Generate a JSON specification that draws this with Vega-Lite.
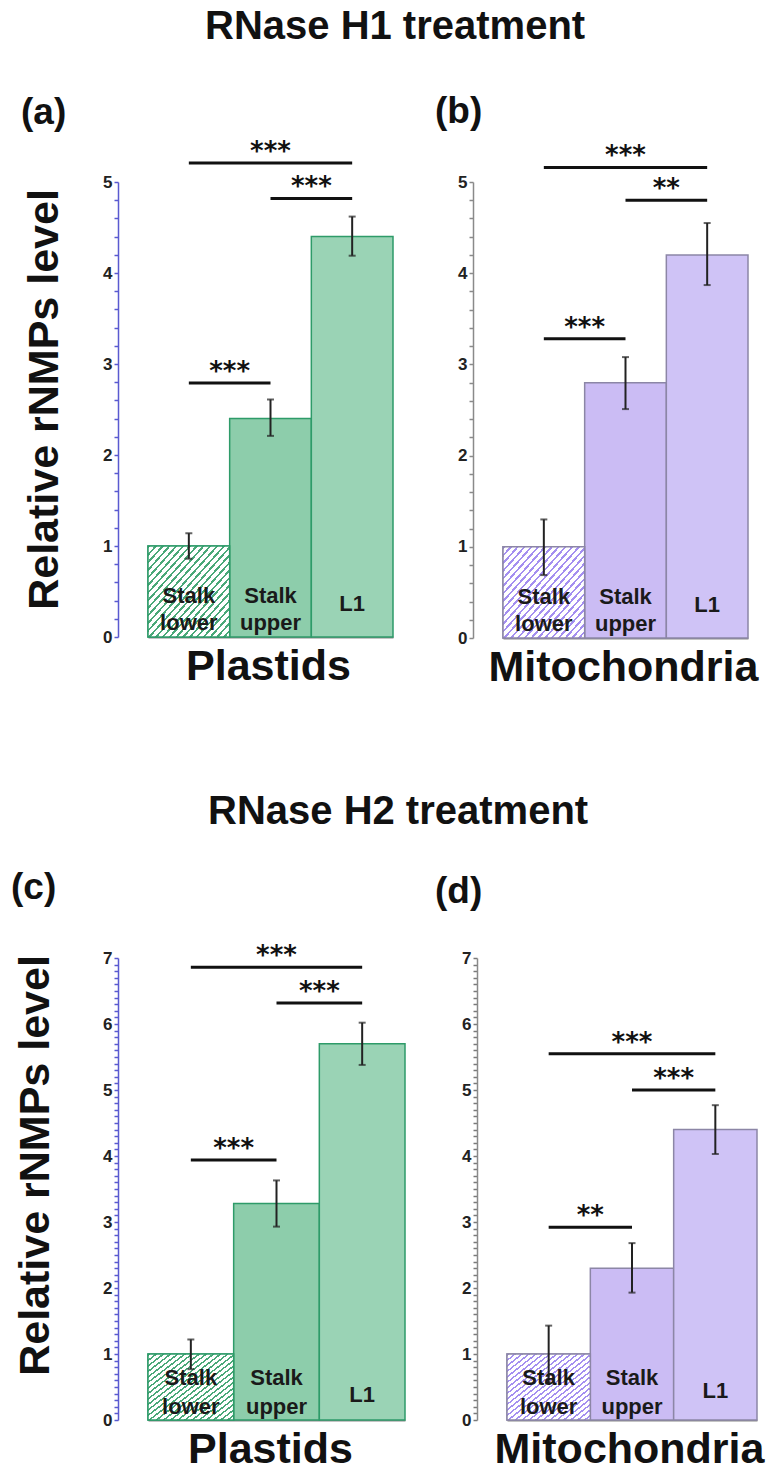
{
  "$schema": "https://vega.github.io/schema/vega-lite/v6.json",
  "padding": {"left": 11, "top": 7, "right": 5, "bottom": 5},
  "spacing": 103,
  "config": {
    "font": "Liberation Sans",
    "view": {"stroke": null},
    "axis": {"grid": false}
  },
  "resolve": {"scale": {"color": "independent", "x": "independent", "y": "independent"}},
  "datasets": {
    "bars": [
      {"panel": "a", "group": "Stalk lower", "top": "Stalk", "bot": "lower", "mid": "", "value": 1.0, "lo": 0.86, "hi": 1.14},
      {"panel": "a", "group": "Stalk upper", "top": "Stalk", "bot": "upper", "mid": "", "value": 2.4, "lo": 2.21, "hi": 2.61},
      {"panel": "a", "group": "L1", "top": "", "bot": "", "mid": "L1", "value": 4.4, "lo": 4.19, "hi": 4.62},
      {"panel": "b", "group": "Stalk lower", "top": "Stalk", "bot": "lower", "mid": "", "value": 1.0, "lo": 0.69, "hi": 1.30},
      {"panel": "b", "group": "Stalk upper", "top": "Stalk", "bot": "upper", "mid": "", "value": 2.8, "lo": 2.51, "hi": 3.08},
      {"panel": "b", "group": "L1", "top": "", "bot": "", "mid": "L1", "value": 4.2, "lo": 3.87, "hi": 4.55},
      {"panel": "c", "group": "Stalk lower", "top": "Stalk", "bot": "lower", "mid": "", "value": 1.0, "lo": 0.77, "hi": 1.22},
      {"panel": "c", "group": "Stalk upper", "top": "Stalk", "bot": "upper", "mid": "", "value": 3.28, "lo": 2.93, "hi": 3.63},
      {"panel": "c", "group": "L1", "top": "", "bot": "", "mid": "L1", "value": 5.7, "lo": 5.38, "hi": 6.02},
      {"panel": "d", "group": "Stalk lower", "top": "Stalk", "bot": "lower", "mid": "", "value": 1.0, "lo": 0.56, "hi": 1.43},
      {"panel": "d", "group": "Stalk upper", "top": "Stalk", "bot": "upper", "mid": "", "value": 2.3, "lo": 1.93, "hi": 2.68},
      {"panel": "d", "group": "L1", "top": "", "bot": "", "mid": "L1", "value": 4.4, "lo": 4.03, "hi": 4.77}
    ],
    "sig": [
      {"panel": "a", "from": "Stalk lower", "to": "L1", "at": "Stalk upper", "kind": "long", "y": 5.21, "stars": "***"},
      {"panel": "a", "from": "Stalk upper", "to": "L1", "at": "L1", "kind": "short", "y": 4.82, "stars": "***"},
      {"panel": "a", "from": "Stalk lower", "to": "Stalk upper", "at": "Stalk upper", "kind": "short", "y": 2.79, "stars": "***"},
      {"panel": "b", "from": "Stalk lower", "to": "L1", "at": "Stalk upper", "kind": "long", "y": 5.16, "stars": "***"},
      {"panel": "b", "from": "Stalk upper", "to": "L1", "at": "L1", "kind": "short", "y": 4.80, "stars": "**"},
      {"panel": "b", "from": "Stalk lower", "to": "Stalk upper", "at": "Stalk upper", "kind": "short", "y": 3.28, "stars": "***"},
      {"panel": "c", "from": "Stalk lower", "to": "L1", "at": "Stalk upper", "kind": "long", "y": 6.86, "stars": "***"},
      {"panel": "c", "from": "Stalk upper", "to": "L1", "at": "L1", "kind": "short", "y": 6.32, "stars": "***"},
      {"panel": "c", "from": "Stalk lower", "to": "Stalk upper", "at": "Stalk upper", "kind": "short", "y": 3.94, "stars": "***"},
      {"panel": "d", "from": "Stalk lower", "to": "L1", "at": "Stalk upper", "kind": "long", "y": 5.55, "stars": "***"},
      {"panel": "d", "from": "Stalk upper", "to": "L1", "at": "L1", "kind": "short", "y": 5.0, "stars": "***"},
      {"panel": "d", "from": "Stalk lower", "to": "Stalk upper", "at": "Stalk upper", "kind": "short", "y": 2.92, "stars": "**"}
    ]
  },
  "vconcat": [
    {
      "title": {"text": "RNase H1 treatment", "anchor": "start", "dx": 184, "fontSize": 40, "fontWeight": "bold", "offset": 46, "color": "#111"},
      "bounds": "flush",
      "spacing": 70,
      "resolve": {"scale": {"color": "independent", "x": "independent", "y": "independent"}},
      "hconcat": [
        {
          "width": 285, "height": 455,
          "title": {"text": "(a)", "anchor": "start", "frame": "group", "dx": -97, "fontSize": 37, "fontWeight": "bold", "offset": 7, "color": "#111"},
          "resolve": {"axis": {"x": "independent", "y": "independent"}},
          "layer": [
            {
              "data": {"name": "bars"},
              "transform": [{"filter": "datum.panel === 'a'"}],
              "mark": {"type": "bar", "stroke": "#2e9b69", "strokeWidth": 1.5},
              "encoding": {
                "x": {"field": "group", "type": "nominal", "sort": ["Stalk lower", "Stalk upper", "L1"],
                      "scale": {"domain": ["Stalk lower", "Stalk upper", "L1"], "range": [30, 275], "paddingInner": 0, "paddingOuter": 0},
                      "axis": {"title": "Plastids", "labels": false, "ticks": false, "domainColor": "#8a8a8a", "domainWidth": 2, "titleFontSize": 43, "titleFontWeight": "bold", "titleColor": "#111", "titlePadding": 8, "titleX": 150}},
                "y": {"field": "value", "type": "quantitative", "scale": {"domain": [0, 5], "nice": false},
                      "axis": {"title": "Relative rNMPs level", "titleFontSize": 43, "titleFontWeight": "bold", "titleColor": "#111", "titlePadding": 36, "titleY": 217,
                               "values": [0,0.2,0.4,0.6,0.8,1,1.2,1.4,1.6,1.8,2,2.2,2.4,2.6,2.8,3,3.2,3.4,3.6,3.8,4,4.2,4.4,4.6,4.8,5], "format": ".0f",
                               "labelExpr": "datum.value % 1 === 0 ? datum.label : ''", "labelOverlap": false, "labelFontSize": 17, "labelFontWeight": "bold", "labelColor": "#222", "labelPadding": 2,
                               "domainColor": "#5a5ad0", "domainWidth": 1.5, "tickColor": "#5a5ad0", "tickWidth": 1.5, "tickSize": 4}},
                "color": {"field": "group", "type": "nominal", "scale": {"domain": ["Stalk lower", "Stalk upper", "L1"], "range": ["#ffffff", "#8dcdab", "#9ad3b5"]}, "legend": null}
              }
            },
            {
              "data": {"name": "bars"},
              "transform": [{"filter": "datum.panel === 'a' && datum.group === 'Stalk lower'"}],
              "mark": {"type": "bar", "stroke": "#2e9b69", "strokeWidth": 1.5, "fill": {"gradient": "linear", "x1": 0, "y1": 0, "x2": 1, "y2": 1, "stops": [{"offset":0,"color":"#4aa878"},{"offset":0.0146,"color":"#4aa878"},{"offset":0.0146,"color":"#fff"},{"offset":0.0417,"color":"#fff"},{"offset":0.0417,"color":"#4aa878"},{"offset":0.0563,"color":"#4aa878"},{"offset":0.0563,"color":"#fff"},{"offset":0.0833,"color":"#fff"},{"offset":0.0833,"color":"#4aa878"},{"offset":0.0979,"color":"#4aa878"},{"offset":0.0979,"color":"#fff"},{"offset":0.125,"color":"#fff"},{"offset":0.125,"color":"#4aa878"},{"offset":0.1396,"color":"#4aa878"},{"offset":0.1396,"color":"#fff"},{"offset":0.1667,"color":"#fff"},{"offset":0.1667,"color":"#4aa878"},{"offset":0.1813,"color":"#4aa878"},{"offset":0.1813,"color":"#fff"},{"offset":0.2083,"color":"#fff"},{"offset":0.2083,"color":"#4aa878"},{"offset":0.2229,"color":"#4aa878"},{"offset":0.2229,"color":"#fff"},{"offset":0.25,"color":"#fff"},{"offset":0.25,"color":"#4aa878"},{"offset":0.2646,"color":"#4aa878"},{"offset":0.2646,"color":"#fff"},{"offset":0.2917,"color":"#fff"},{"offset":0.2917,"color":"#4aa878"},{"offset":0.3063,"color":"#4aa878"},{"offset":0.3063,"color":"#fff"},{"offset":0.3333,"color":"#fff"},{"offset":0.3333,"color":"#4aa878"},{"offset":0.3479,"color":"#4aa878"},{"offset":0.3479,"color":"#fff"},{"offset":0.375,"color":"#fff"},{"offset":0.375,"color":"#4aa878"},{"offset":0.3896,"color":"#4aa878"},{"offset":0.3896,"color":"#fff"},{"offset":0.4167,"color":"#fff"},{"offset":0.4167,"color":"#4aa878"},{"offset":0.4313,"color":"#4aa878"},{"offset":0.4313,"color":"#fff"},{"offset":0.4583,"color":"#fff"},{"offset":0.4583,"color":"#4aa878"},{"offset":0.4729,"color":"#4aa878"},{"offset":0.4729,"color":"#fff"},{"offset":0.5,"color":"#fff"},{"offset":0.5,"color":"#4aa878"},{"offset":0.5146,"color":"#4aa878"},{"offset":0.5146,"color":"#fff"},{"offset":0.5417,"color":"#fff"},{"offset":0.5417,"color":"#4aa878"},{"offset":0.5563,"color":"#4aa878"},{"offset":0.5563,"color":"#fff"},{"offset":0.5833,"color":"#fff"},{"offset":0.5833,"color":"#4aa878"},{"offset":0.5979,"color":"#4aa878"},{"offset":0.5979,"color":"#fff"},{"offset":0.625,"color":"#fff"},{"offset":0.625,"color":"#4aa878"},{"offset":0.6396,"color":"#4aa878"},{"offset":0.6396,"color":"#fff"},{"offset":0.6667,"color":"#fff"},{"offset":0.6667,"color":"#4aa878"},{"offset":0.6813,"color":"#4aa878"},{"offset":0.6813,"color":"#fff"},{"offset":0.7083,"color":"#fff"},{"offset":0.7083,"color":"#4aa878"},{"offset":0.7229,"color":"#4aa878"},{"offset":0.7229,"color":"#fff"},{"offset":0.75,"color":"#fff"},{"offset":0.75,"color":"#4aa878"},{"offset":0.7646,"color":"#4aa878"},{"offset":0.7646,"color":"#fff"},{"offset":0.7917,"color":"#fff"},{"offset":0.7917,"color":"#4aa878"},{"offset":0.8063,"color":"#4aa878"},{"offset":0.8063,"color":"#fff"},{"offset":0.8333,"color":"#fff"},{"offset":0.8333,"color":"#4aa878"},{"offset":0.8479,"color":"#4aa878"},{"offset":0.8479,"color":"#fff"},{"offset":0.875,"color":"#fff"},{"offset":0.875,"color":"#4aa878"},{"offset":0.8896,"color":"#4aa878"},{"offset":0.8896,"color":"#fff"},{"offset":0.9167,"color":"#fff"},{"offset":0.9167,"color":"#4aa878"},{"offset":0.9313,"color":"#4aa878"},{"offset":0.9313,"color":"#fff"},{"offset":0.9583,"color":"#fff"},{"offset":0.9583,"color":"#4aa878"},{"offset":0.9729,"color":"#4aa878"},{"offset":0.9729,"color":"#fff"},{"offset":1,"color":"#fff"}]}},
              "encoding": {"x": {"field": "group", "type": "nominal", "axis": null}, "y": {"field": "value", "type": "quantitative", "axis": null}}
            },
            {
              "data": {"name": "bars"},
              "transform": [{"filter": "datum.panel === 'a'"}],
              "mark": {"type": "rule", "color": "#222", "strokeWidth": 2},
              "encoding": {"x": {"field": "group", "type": "nominal", "axis": null}, "y": {"field": "lo", "type": "quantitative", "axis": null}, "y2": {"field": "hi"}}
            },
            {
              "data": {"name": "bars"},
              "transform": [{"filter": "datum.panel === 'a'"}],
              "mark": {"type": "tick", "color": "#222", "size": 7, "thickness": 2},
              "encoding": {"x": {"field": "group", "type": "nominal", "axis": null}, "y": {"field": "hi", "type": "quantitative", "axis": null}}
            },
            {
              "data": {"name": "bars"},
              "transform": [{"filter": "datum.panel === 'a'"}],
              "mark": {"type": "tick", "color": "#222", "size": 7, "thickness": 2},
              "encoding": {"x": {"field": "group", "type": "nominal", "axis": null}, "y": {"field": "lo", "type": "quantitative", "axis": null}}
            },
            {
              "data": {"name": "bars"},
              "transform": [{"filter": "datum.panel === 'a'"}],
              "mark": {"type": "text", "fontSize": 22, "fontWeight": "bold", "color": "#1a1a1a", "dy": -34, "baseline": "alphabetic"},
              "encoding": {"x": {"field": "group", "type": "nominal", "axis": null}, "y": {"datum": 0, "type": "quantitative", "axis": null}, "text": {"field": "top"}}
            },
            {
              "data": {"name": "bars"},
              "transform": [{"filter": "datum.panel === 'a'"}],
              "mark": {"type": "text", "fontSize": 22, "fontWeight": "bold", "color": "#1a1a1a", "dy": -7, "baseline": "alphabetic"},
              "encoding": {"x": {"field": "group", "type": "nominal", "axis": null}, "y": {"datum": 0, "type": "quantitative", "axis": null}, "text": {"field": "bot"}}
            },
            {
              "data": {"name": "bars"},
              "transform": [{"filter": "datum.panel === 'a'"}],
              "mark": {"type": "text", "fontSize": 22, "fontWeight": "bold", "color": "#1a1a1a", "dy": -26, "baseline": "alphabetic"},
              "encoding": {"x": {"field": "group", "type": "nominal", "axis": null}, "y": {"datum": 0, "type": "quantitative", "axis": null}, "text": {"field": "mid"}}
            },
            {
              "data": {"name": "sig"},
              "transform": [{"filter": "datum.panel === 'a'"}],
              "mark": {"type": "rule", "color": "#111", "strokeWidth": 3},
              "encoding": {"x": {"field": "from", "type": "nominal", "axis": null}, "x2": {"field": "to"}, "y": {"field": "y", "type": "quantitative", "axis": null}}
            },
            {
              "data": {"name": "sig"},
              "transform": [{"filter": "datum.panel === 'a' && datum.kind === 'long'"}],
              "mark": {"type": "text", "font": "DejaVu Sans", "fontSize": 26, "fontWeight": "bold", "color": "#111", "dy": -3, "baseline": "alphabetic"},
              "encoding": {"x": {"field": "at", "type": "nominal", "bandPosition": 0.5, "axis": null}, "y": {"field": "y", "type": "quantitative", "axis": null}, "text": {"field": "stars"}}
            },
            {
              "data": {"name": "sig"},
              "transform": [{"filter": "datum.panel === 'a' && datum.kind === 'short'"}],
              "mark": {"type": "text", "font": "DejaVu Sans", "fontSize": 26, "fontWeight": "bold", "color": "#111", "dy": -3, "baseline": "alphabetic"},
              "encoding": {"x": {"field": "at", "type": "nominal", "bandPosition": 0, "axis": null}, "y": {"field": "y", "type": "quantitative", "axis": null}, "text": {"field": "stars"}}
            }
          ]
        },
        {
          "width": 285, "height": 456,
          "title": {"text": "(b)", "anchor": "start", "frame": "group", "dx": -38, "fontSize": 37, "fontWeight": "bold", "offset": 12, "color": "#111"},
          "resolve": {"axis": {"x": "independent", "y": "independent"}},
          "layer": [
            {
              "data": {"name": "bars"},
              "transform": [{"filter": "datum.panel === 'b'"}],
              "mark": {"type": "bar", "stroke": "#8c86a6", "strokeWidth": 1.5},
              "encoding": {
                "x": {"field": "group", "type": "nominal", "sort": ["Stalk lower", "Stalk upper", "L1"],
                      "scale": {"domain": ["Stalk lower", "Stalk upper", "L1"], "range": [30, 275], "paddingInner": 0, "paddingOuter": 0},
                      "axis": {"title": "Mitochondria", "labels": false, "ticks": false, "domainColor": "#8a8a8a", "domainWidth": 2, "titleFontSize": 43, "titleFontWeight": "bold", "titleColor": "#111", "titlePadding": 8, "titleX": 150}},
                "y": {"field": "value", "type": "quantitative", "scale": {"domain": [0, 5], "nice": false},
                      "axis": {"title": null,
                               "values": [0,0.2,0.4,0.6,0.8,1,1.2,1.4,1.6,1.8,2,2.2,2.4,2.6,2.8,3,3.2,3.4,3.6,3.8,4,4.2,4.4,4.6,4.8,5], "format": ".0f",
                               "labelExpr": "datum.value % 1 === 0 ? datum.label : ''", "labelOverlap": false, "labelFontSize": 17, "labelFontWeight": "bold", "labelColor": "#222", "labelPadding": 2,
                               "domainColor": "#8a8a8a", "domainWidth": 1.5, "tickColor": "#8a8a8a", "tickWidth": 1.5, "tickSize": 4}},
                "color": {"field": "group", "type": "nominal", "scale": {"domain": ["Stalk lower", "Stalk upper", "L1"], "range": ["#ffffff", "#cbbcf4", "#cfc3f6"]}, "legend": null}
              }
            },
            {
              "data": {"name": "bars"},
              "transform": [{"filter": "datum.panel === 'b' && datum.group === 'Stalk lower'"}],
              "mark": {"type": "bar", "stroke": "#8c86a6", "strokeWidth": 1.5, "fill": {"gradient": "linear", "x1": 0, "y1": 0, "x2": 1, "y2": 1, "stops": [{"offset":0,"color":"#a48ff0"},{"offset":0.0146,"color":"#a48ff0"},{"offset":0.0146,"color":"#fff"},{"offset":0.0417,"color":"#fff"},{"offset":0.0417,"color":"#a48ff0"},{"offset":0.0563,"color":"#a48ff0"},{"offset":0.0563,"color":"#fff"},{"offset":0.0833,"color":"#fff"},{"offset":0.0833,"color":"#a48ff0"},{"offset":0.0979,"color":"#a48ff0"},{"offset":0.0979,"color":"#fff"},{"offset":0.125,"color":"#fff"},{"offset":0.125,"color":"#a48ff0"},{"offset":0.1396,"color":"#a48ff0"},{"offset":0.1396,"color":"#fff"},{"offset":0.1667,"color":"#fff"},{"offset":0.1667,"color":"#a48ff0"},{"offset":0.1813,"color":"#a48ff0"},{"offset":0.1813,"color":"#fff"},{"offset":0.2083,"color":"#fff"},{"offset":0.2083,"color":"#a48ff0"},{"offset":0.2229,"color":"#a48ff0"},{"offset":0.2229,"color":"#fff"},{"offset":0.25,"color":"#fff"},{"offset":0.25,"color":"#a48ff0"},{"offset":0.2646,"color":"#a48ff0"},{"offset":0.2646,"color":"#fff"},{"offset":0.2917,"color":"#fff"},{"offset":0.2917,"color":"#a48ff0"},{"offset":0.3063,"color":"#a48ff0"},{"offset":0.3063,"color":"#fff"},{"offset":0.3333,"color":"#fff"},{"offset":0.3333,"color":"#a48ff0"},{"offset":0.3479,"color":"#a48ff0"},{"offset":0.3479,"color":"#fff"},{"offset":0.375,"color":"#fff"},{"offset":0.375,"color":"#a48ff0"},{"offset":0.3896,"color":"#a48ff0"},{"offset":0.3896,"color":"#fff"},{"offset":0.4167,"color":"#fff"},{"offset":0.4167,"color":"#a48ff0"},{"offset":0.4313,"color":"#a48ff0"},{"offset":0.4313,"color":"#fff"},{"offset":0.4583,"color":"#fff"},{"offset":0.4583,"color":"#a48ff0"},{"offset":0.4729,"color":"#a48ff0"},{"offset":0.4729,"color":"#fff"},{"offset":0.5,"color":"#fff"},{"offset":0.5,"color":"#a48ff0"},{"offset":0.5146,"color":"#a48ff0"},{"offset":0.5146,"color":"#fff"},{"offset":0.5417,"color":"#fff"},{"offset":0.5417,"color":"#a48ff0"},{"offset":0.5563,"color":"#a48ff0"},{"offset":0.5563,"color":"#fff"},{"offset":0.5833,"color":"#fff"},{"offset":0.5833,"color":"#a48ff0"},{"offset":0.5979,"color":"#a48ff0"},{"offset":0.5979,"color":"#fff"},{"offset":0.625,"color":"#fff"},{"offset":0.625,"color":"#a48ff0"},{"offset":0.6396,"color":"#a48ff0"},{"offset":0.6396,"color":"#fff"},{"offset":0.6667,"color":"#fff"},{"offset":0.6667,"color":"#a48ff0"},{"offset":0.6813,"color":"#a48ff0"},{"offset":0.6813,"color":"#fff"},{"offset":0.7083,"color":"#fff"},{"offset":0.7083,"color":"#a48ff0"},{"offset":0.7229,"color":"#a48ff0"},{"offset":0.7229,"color":"#fff"},{"offset":0.75,"color":"#fff"},{"offset":0.75,"color":"#a48ff0"},{"offset":0.7646,"color":"#a48ff0"},{"offset":0.7646,"color":"#fff"},{"offset":0.7917,"color":"#fff"},{"offset":0.7917,"color":"#a48ff0"},{"offset":0.8063,"color":"#a48ff0"},{"offset":0.8063,"color":"#fff"},{"offset":0.8333,"color":"#fff"},{"offset":0.8333,"color":"#a48ff0"},{"offset":0.8479,"color":"#a48ff0"},{"offset":0.8479,"color":"#fff"},{"offset":0.875,"color":"#fff"},{"offset":0.875,"color":"#a48ff0"},{"offset":0.8896,"color":"#a48ff0"},{"offset":0.8896,"color":"#fff"},{"offset":0.9167,"color":"#fff"},{"offset":0.9167,"color":"#a48ff0"},{"offset":0.9313,"color":"#a48ff0"},{"offset":0.9313,"color":"#fff"},{"offset":0.9583,"color":"#fff"},{"offset":0.9583,"color":"#a48ff0"},{"offset":0.9729,"color":"#a48ff0"},{"offset":0.9729,"color":"#fff"},{"offset":1,"color":"#fff"}]}},
              "encoding": {"x": {"field": "group", "type": "nominal", "axis": null}, "y": {"field": "value", "type": "quantitative", "axis": null}}
            },
            {
              "data": {"name": "bars"},
              "transform": [{"filter": "datum.panel === 'b'"}],
              "mark": {"type": "rule", "color": "#222", "strokeWidth": 2},
              "encoding": {"x": {"field": "group", "type": "nominal", "axis": null}, "y": {"field": "lo", "type": "quantitative", "axis": null}, "y2": {"field": "hi"}}
            },
            {
              "data": {"name": "bars"},
              "transform": [{"filter": "datum.panel === 'b'"}],
              "mark": {"type": "tick", "color": "#222", "size": 7, "thickness": 2},
              "encoding": {"x": {"field": "group", "type": "nominal", "axis": null}, "y": {"field": "hi", "type": "quantitative", "axis": null}}
            },
            {
              "data": {"name": "bars"},
              "transform": [{"filter": "datum.panel === 'b'"}],
              "mark": {"type": "tick", "color": "#222", "size": 7, "thickness": 2},
              "encoding": {"x": {"field": "group", "type": "nominal", "axis": null}, "y": {"field": "lo", "type": "quantitative", "axis": null}}
            },
            {
              "data": {"name": "bars"},
              "transform": [{"filter": "datum.panel === 'b'"}],
              "mark": {"type": "text", "fontSize": 22, "fontWeight": "bold", "color": "#1a1a1a", "dy": -34, "baseline": "alphabetic"},
              "encoding": {"x": {"field": "group", "type": "nominal", "axis": null}, "y": {"datum": 0, "type": "quantitative", "axis": null}, "text": {"field": "top"}}
            },
            {
              "data": {"name": "bars"},
              "transform": [{"filter": "datum.panel === 'b'"}],
              "mark": {"type": "text", "fontSize": 22, "fontWeight": "bold", "color": "#1a1a1a", "dy": -7, "baseline": "alphabetic"},
              "encoding": {"x": {"field": "group", "type": "nominal", "axis": null}, "y": {"datum": 0, "type": "quantitative", "axis": null}, "text": {"field": "bot"}}
            },
            {
              "data": {"name": "bars"},
              "transform": [{"filter": "datum.panel === 'b'"}],
              "mark": {"type": "text", "fontSize": 22, "fontWeight": "bold", "color": "#1a1a1a", "dy": -26, "baseline": "alphabetic"},
              "encoding": {"x": {"field": "group", "type": "nominal", "axis": null}, "y": {"datum": 0, "type": "quantitative", "axis": null}, "text": {"field": "mid"}}
            },
            {
              "data": {"name": "sig"},
              "transform": [{"filter": "datum.panel === 'b'"}],
              "mark": {"type": "rule", "color": "#111", "strokeWidth": 3},
              "encoding": {"x": {"field": "from", "type": "nominal", "axis": null}, "x2": {"field": "to"}, "y": {"field": "y", "type": "quantitative", "axis": null}}
            },
            {
              "data": {"name": "sig"},
              "transform": [{"filter": "datum.panel === 'b' && datum.kind === 'long'"}],
              "mark": {"type": "text", "font": "DejaVu Sans", "fontSize": 26, "fontWeight": "bold", "color": "#111", "dy": -3, "baseline": "alphabetic"},
              "encoding": {"x": {"field": "at", "type": "nominal", "bandPosition": 0.5, "axis": null}, "y": {"field": "y", "type": "quantitative", "axis": null}, "text": {"field": "stars"}}
            },
            {
              "data": {"name": "sig"},
              "transform": [{"filter": "datum.panel === 'b' && datum.kind === 'short'"}],
              "mark": {"type": "text", "font": "DejaVu Sans", "fontSize": 26, "fontWeight": "bold", "color": "#111", "dy": -3, "baseline": "alphabetic"},
              "encoding": {"x": {"field": "at", "type": "nominal", "bandPosition": 0, "axis": null}, "y": {"field": "y", "type": "quantitative", "axis": null}, "text": {"field": "stars"}}
            }
          ]
        }
      ]
    },
    {
      "title": {"text": "RNase H2 treatment", "anchor": "start", "dx": 197, "fontSize": 40, "fontWeight": "bold", "offset": 37, "color": "#111"},
      "bounds": "flush",
      "spacing": 59,
      "resolve": {"scale": {"color": "independent", "x": "independent", "y": "independent"}},
      "hconcat": [
        {
          "width": 300, "height": 462,
          "title": {"text": "(c)", "anchor": "start", "frame": "group", "dx": -107, "fontSize": 37, "fontWeight": "bold", "offset": 36, "color": "#111"},
          "resolve": {"axis": {"x": "independent", "y": "independent"}},
          "layer": [
            {
              "data": {"name": "bars"},
              "transform": [{"filter": "datum.panel === 'c'"}],
              "mark": {"type": "bar", "stroke": "#2e9b69", "strokeWidth": 1.5},
              "encoding": {
                "x": {"field": "group", "type": "nominal", "sort": ["Stalk lower", "Stalk upper", "L1"],
                      "scale": {"domain": ["Stalk lower", "Stalk upper", "L1"], "range": [30, 287], "paddingInner": 0, "paddingOuter": 0},
                      "axis": {"title": "Plastids", "labels": false, "ticks": false, "domainColor": "#8a8a8a", "domainWidth": 2, "titleFontSize": 43, "titleFontWeight": "bold", "titleColor": "#111", "titlePadding": 8, "titleX": 152}},
                "y": {"field": "value", "type": "quantitative", "scale": {"domain": [0, 7], "nice": false},
                      "axis": {"title": "Relative rNMPs level", "titleFontSize": 43, "titleFontWeight": "bold", "titleColor": "#111", "titlePadding": 45, "titleY": 207,
                               "values": [0,0.1,0.2,0.3,0.4,0.5,0.6,0.7,0.8,0.9,1,1.1,1.2,1.3,1.4,1.5,1.6,1.7,1.8,1.9,2,2.1,2.2,2.3,2.4,2.5,2.6,2.7,2.8,2.9,3,3.1,3.2,3.3,3.4,3.5,3.6,3.7,3.8,3.9,4,4.1,4.2,4.3,4.4,4.5,4.6,4.7,4.8,4.9,5,5.1,5.2,5.3,5.4,5.5,5.6,5.7,5.8,5.9,6,6.1,6.2,6.3,6.4,6.5,6.6,6.7,6.8,6.9,7], "format": ".0f",
                               "labelExpr": "datum.value % 1 === 0 ? datum.label : ''", "labelOverlap": false, "labelFontSize": 17, "labelFontWeight": "bold", "labelColor": "#222", "labelPadding": 2,
                               "domainColor": "#5a5ad0", "domainWidth": 1.5, "tickColor": "#5a5ad0", "tickWidth": 1.5, "tickSize": 4}},
                "color": {"field": "group", "type": "nominal", "scale": {"domain": ["Stalk lower", "Stalk upper", "L1"], "range": ["#ffffff", "#8dcdab", "#9ad3b5"]}, "legend": null}
              }
            },
            {
              "data": {"name": "bars"},
              "transform": [{"filter": "datum.panel === 'c' && datum.group === 'Stalk lower'"}],
              "mark": {"type": "bar", "stroke": "#2e9b69", "strokeWidth": 1.5, "fill": {"gradient": "linear", "x1": 0, "y1": 0, "x2": 1, "y2": 1, "stops": [{"offset":0,"color":"#4aa878"},{"offset":0.0146,"color":"#4aa878"},{"offset":0.0146,"color":"#fff"},{"offset":0.0417,"color":"#fff"},{"offset":0.0417,"color":"#4aa878"},{"offset":0.0563,"color":"#4aa878"},{"offset":0.0563,"color":"#fff"},{"offset":0.0833,"color":"#fff"},{"offset":0.0833,"color":"#4aa878"},{"offset":0.0979,"color":"#4aa878"},{"offset":0.0979,"color":"#fff"},{"offset":0.125,"color":"#fff"},{"offset":0.125,"color":"#4aa878"},{"offset":0.1396,"color":"#4aa878"},{"offset":0.1396,"color":"#fff"},{"offset":0.1667,"color":"#fff"},{"offset":0.1667,"color":"#4aa878"},{"offset":0.1813,"color":"#4aa878"},{"offset":0.1813,"color":"#fff"},{"offset":0.2083,"color":"#fff"},{"offset":0.2083,"color":"#4aa878"},{"offset":0.2229,"color":"#4aa878"},{"offset":0.2229,"color":"#fff"},{"offset":0.25,"color":"#fff"},{"offset":0.25,"color":"#4aa878"},{"offset":0.2646,"color":"#4aa878"},{"offset":0.2646,"color":"#fff"},{"offset":0.2917,"color":"#fff"},{"offset":0.2917,"color":"#4aa878"},{"offset":0.3063,"color":"#4aa878"},{"offset":0.3063,"color":"#fff"},{"offset":0.3333,"color":"#fff"},{"offset":0.3333,"color":"#4aa878"},{"offset":0.3479,"color":"#4aa878"},{"offset":0.3479,"color":"#fff"},{"offset":0.375,"color":"#fff"},{"offset":0.375,"color":"#4aa878"},{"offset":0.3896,"color":"#4aa878"},{"offset":0.3896,"color":"#fff"},{"offset":0.4167,"color":"#fff"},{"offset":0.4167,"color":"#4aa878"},{"offset":0.4313,"color":"#4aa878"},{"offset":0.4313,"color":"#fff"},{"offset":0.4583,"color":"#fff"},{"offset":0.4583,"color":"#4aa878"},{"offset":0.4729,"color":"#4aa878"},{"offset":0.4729,"color":"#fff"},{"offset":0.5,"color":"#fff"},{"offset":0.5,"color":"#4aa878"},{"offset":0.5146,"color":"#4aa878"},{"offset":0.5146,"color":"#fff"},{"offset":0.5417,"color":"#fff"},{"offset":0.5417,"color":"#4aa878"},{"offset":0.5563,"color":"#4aa878"},{"offset":0.5563,"color":"#fff"},{"offset":0.5833,"color":"#fff"},{"offset":0.5833,"color":"#4aa878"},{"offset":0.5979,"color":"#4aa878"},{"offset":0.5979,"color":"#fff"},{"offset":0.625,"color":"#fff"},{"offset":0.625,"color":"#4aa878"},{"offset":0.6396,"color":"#4aa878"},{"offset":0.6396,"color":"#fff"},{"offset":0.6667,"color":"#fff"},{"offset":0.6667,"color":"#4aa878"},{"offset":0.6813,"color":"#4aa878"},{"offset":0.6813,"color":"#fff"},{"offset":0.7083,"color":"#fff"},{"offset":0.7083,"color":"#4aa878"},{"offset":0.7229,"color":"#4aa878"},{"offset":0.7229,"color":"#fff"},{"offset":0.75,"color":"#fff"},{"offset":0.75,"color":"#4aa878"},{"offset":0.7646,"color":"#4aa878"},{"offset":0.7646,"color":"#fff"},{"offset":0.7917,"color":"#fff"},{"offset":0.7917,"color":"#4aa878"},{"offset":0.8063,"color":"#4aa878"},{"offset":0.8063,"color":"#fff"},{"offset":0.8333,"color":"#fff"},{"offset":0.8333,"color":"#4aa878"},{"offset":0.8479,"color":"#4aa878"},{"offset":0.8479,"color":"#fff"},{"offset":0.875,"color":"#fff"},{"offset":0.875,"color":"#4aa878"},{"offset":0.8896,"color":"#4aa878"},{"offset":0.8896,"color":"#fff"},{"offset":0.9167,"color":"#fff"},{"offset":0.9167,"color":"#4aa878"},{"offset":0.9313,"color":"#4aa878"},{"offset":0.9313,"color":"#fff"},{"offset":0.9583,"color":"#fff"},{"offset":0.9583,"color":"#4aa878"},{"offset":0.9729,"color":"#4aa878"},{"offset":0.9729,"color":"#fff"},{"offset":1,"color":"#fff"}]}},
              "encoding": {"x": {"field": "group", "type": "nominal", "axis": null}, "y": {"field": "value", "type": "quantitative", "axis": null}}
            },
            {
              "data": {"name": "bars"},
              "transform": [{"filter": "datum.panel === 'c'"}],
              "mark": {"type": "rule", "color": "#222", "strokeWidth": 2},
              "encoding": {"x": {"field": "group", "type": "nominal", "axis": null}, "y": {"field": "lo", "type": "quantitative", "axis": null}, "y2": {"field": "hi"}}
            },
            {
              "data": {"name": "bars"},
              "transform": [{"filter": "datum.panel === 'c'"}],
              "mark": {"type": "tick", "color": "#222", "size": 7, "thickness": 2},
              "encoding": {"x": {"field": "group", "type": "nominal", "axis": null}, "y": {"field": "hi", "type": "quantitative", "axis": null}}
            },
            {
              "data": {"name": "bars"},
              "transform": [{"filter": "datum.panel === 'c'"}],
              "mark": {"type": "tick", "color": "#222", "size": 7, "thickness": 2},
              "encoding": {"x": {"field": "group", "type": "nominal", "axis": null}, "y": {"field": "lo", "type": "quantitative", "axis": null}}
            },
            {
              "data": {"name": "bars"},
              "transform": [{"filter": "datum.panel === 'c'"}],
              "mark": {"type": "text", "fontSize": 22, "fontWeight": "bold", "color": "#1a1a1a", "dy": -35, "baseline": "alphabetic"},
              "encoding": {"x": {"field": "group", "type": "nominal", "axis": null}, "y": {"datum": 0, "type": "quantitative", "axis": null}, "text": {"field": "top"}}
            },
            {
              "data": {"name": "bars"},
              "transform": [{"filter": "datum.panel === 'c'"}],
              "mark": {"type": "text", "fontSize": 22, "fontWeight": "bold", "color": "#1a1a1a", "dy": -6, "baseline": "alphabetic"},
              "encoding": {"x": {"field": "group", "type": "nominal", "axis": null}, "y": {"datum": 0, "type": "quantitative", "axis": null}, "text": {"field": "bot"}}
            },
            {
              "data": {"name": "bars"},
              "transform": [{"filter": "datum.panel === 'c'"}],
              "mark": {"type": "text", "fontSize": 22, "fontWeight": "bold", "color": "#1a1a1a", "dy": -18, "baseline": "alphabetic"},
              "encoding": {"x": {"field": "group", "type": "nominal", "axis": null}, "y": {"datum": 0, "type": "quantitative", "axis": null}, "text": {"field": "mid"}}
            },
            {
              "data": {"name": "sig"},
              "transform": [{"filter": "datum.panel === 'c'"}],
              "mark": {"type": "rule", "color": "#111", "strokeWidth": 3},
              "encoding": {"x": {"field": "from", "type": "nominal", "axis": null}, "x2": {"field": "to"}, "y": {"field": "y", "type": "quantitative", "axis": null}}
            },
            {
              "data": {"name": "sig"},
              "transform": [{"filter": "datum.panel === 'c' && datum.kind === 'long'"}],
              "mark": {"type": "text", "font": "DejaVu Sans", "fontSize": 26, "fontWeight": "bold", "color": "#111", "dy": -3, "baseline": "alphabetic"},
              "encoding": {"x": {"field": "at", "type": "nominal", "bandPosition": 0.5, "axis": null}, "y": {"field": "y", "type": "quantitative", "axis": null}, "text": {"field": "stars"}}
            },
            {
              "data": {"name": "sig"},
              "transform": [{"filter": "datum.panel === 'c' && datum.kind === 'short'"}],
              "mark": {"type": "text", "font": "DejaVu Sans", "fontSize": 26, "fontWeight": "bold", "color": "#111", "dy": -3, "baseline": "alphabetic"},
              "encoding": {"x": {"field": "at", "type": "nominal", "bandPosition": 0, "axis": null}, "y": {"field": "y", "type": "quantitative", "axis": null}, "text": {"field": "stars"}}
            }
          ]
        },
        {
          "width": 292, "height": 462,
          "title": {"text": "(d)", "anchor": "start", "frame": "group", "dx": -42, "fontSize": 37, "fontWeight": "bold", "offset": 38, "color": "#111"},
          "resolve": {"axis": {"x": "independent", "y": "independent"}},
          "layer": [
            {
              "data": {"name": "bars"},
              "transform": [{"filter": "datum.panel === 'd'"}],
              "mark": {"type": "bar", "stroke": "#8c86a6", "strokeWidth": 1.5},
              "encoding": {
                "x": {"field": "group", "type": "nominal", "sort": ["Stalk lower", "Stalk upper", "L1"],
                      "scale": {"domain": ["Stalk lower", "Stalk upper", "L1"], "range": [30, 280], "paddingInner": 0, "paddingOuter": 0},
                      "axis": {"title": "Mitochondria", "labels": false, "ticks": false, "domainColor": "#8a8a8a", "domainWidth": 2, "titleFontSize": 43, "titleFontWeight": "bold", "titleColor": "#111", "titlePadding": 8, "titleX": 152}},
                "y": {"field": "value", "type": "quantitative", "scale": {"domain": [0, 7], "nice": false},
                      "axis": {"title": null,
                               "values": [0,0.1,0.2,0.3,0.4,0.5,0.6,0.7,0.8,0.9,1,1.1,1.2,1.3,1.4,1.5,1.6,1.7,1.8,1.9,2,2.1,2.2,2.3,2.4,2.5,2.6,2.7,2.8,2.9,3,3.1,3.2,3.3,3.4,3.5,3.6,3.7,3.8,3.9,4,4.1,4.2,4.3,4.4,4.5,4.6,4.7,4.8,4.9,5,5.1,5.2,5.3,5.4,5.5,5.6,5.7,5.8,5.9,6,6.1,6.2,6.3,6.4,6.5,6.6,6.7,6.8,6.9,7], "format": ".0f",
                               "labelExpr": "datum.value % 1 === 0 ? datum.label : ''", "labelOverlap": false, "labelFontSize": 17, "labelFontWeight": "bold", "labelColor": "#222", "labelPadding": 2,
                               "domainColor": "#8a8a8a", "domainWidth": 1.5, "tickColor": "#7a7a7a", "tickWidth": 1.5, "tickSize": 4}},
                "color": {"field": "group", "type": "nominal", "scale": {"domain": ["Stalk lower", "Stalk upper", "L1"], "range": ["#ffffff", "#cbbcf4", "#cfc3f6"]}, "legend": null}
              }
            },
            {
              "data": {"name": "bars"},
              "transform": [{"filter": "datum.panel === 'd' && datum.group === 'Stalk lower'"}],
              "mark": {"type": "bar", "stroke": "#8c86a6", "strokeWidth": 1.5, "fill": {"gradient": "linear", "x1": 0, "y1": 0, "x2": 1, "y2": 1, "stops": [{"offset":0,"color":"#a48ff0"},{"offset":0.0146,"color":"#a48ff0"},{"offset":0.0146,"color":"#fff"},{"offset":0.0417,"color":"#fff"},{"offset":0.0417,"color":"#a48ff0"},{"offset":0.0563,"color":"#a48ff0"},{"offset":0.0563,"color":"#fff"},{"offset":0.0833,"color":"#fff"},{"offset":0.0833,"color":"#a48ff0"},{"offset":0.0979,"color":"#a48ff0"},{"offset":0.0979,"color":"#fff"},{"offset":0.125,"color":"#fff"},{"offset":0.125,"color":"#a48ff0"},{"offset":0.1396,"color":"#a48ff0"},{"offset":0.1396,"color":"#fff"},{"offset":0.1667,"color":"#fff"},{"offset":0.1667,"color":"#a48ff0"},{"offset":0.1813,"color":"#a48ff0"},{"offset":0.1813,"color":"#fff"},{"offset":0.2083,"color":"#fff"},{"offset":0.2083,"color":"#a48ff0"},{"offset":0.2229,"color":"#a48ff0"},{"offset":0.2229,"color":"#fff"},{"offset":0.25,"color":"#fff"},{"offset":0.25,"color":"#a48ff0"},{"offset":0.2646,"color":"#a48ff0"},{"offset":0.2646,"color":"#fff"},{"offset":0.2917,"color":"#fff"},{"offset":0.2917,"color":"#a48ff0"},{"offset":0.3063,"color":"#a48ff0"},{"offset":0.3063,"color":"#fff"},{"offset":0.3333,"color":"#fff"},{"offset":0.3333,"color":"#a48ff0"},{"offset":0.3479,"color":"#a48ff0"},{"offset":0.3479,"color":"#fff"},{"offset":0.375,"color":"#fff"},{"offset":0.375,"color":"#a48ff0"},{"offset":0.3896,"color":"#a48ff0"},{"offset":0.3896,"color":"#fff"},{"offset":0.4167,"color":"#fff"},{"offset":0.4167,"color":"#a48ff0"},{"offset":0.4313,"color":"#a48ff0"},{"offset":0.4313,"color":"#fff"},{"offset":0.4583,"color":"#fff"},{"offset":0.4583,"color":"#a48ff0"},{"offset":0.4729,"color":"#a48ff0"},{"offset":0.4729,"color":"#fff"},{"offset":0.5,"color":"#fff"},{"offset":0.5,"color":"#a48ff0"},{"offset":0.5146,"color":"#a48ff0"},{"offset":0.5146,"color":"#fff"},{"offset":0.5417,"color":"#fff"},{"offset":0.5417,"color":"#a48ff0"},{"offset":0.5563,"color":"#a48ff0"},{"offset":0.5563,"color":"#fff"},{"offset":0.5833,"color":"#fff"},{"offset":0.5833,"color":"#a48ff0"},{"offset":0.5979,"color":"#a48ff0"},{"offset":0.5979,"color":"#fff"},{"offset":0.625,"color":"#fff"},{"offset":0.625,"color":"#a48ff0"},{"offset":0.6396,"color":"#a48ff0"},{"offset":0.6396,"color":"#fff"},{"offset":0.6667,"color":"#fff"},{"offset":0.6667,"color":"#a48ff0"},{"offset":0.6813,"color":"#a48ff0"},{"offset":0.6813,"color":"#fff"},{"offset":0.7083,"color":"#fff"},{"offset":0.7083,"color":"#a48ff0"},{"offset":0.7229,"color":"#a48ff0"},{"offset":0.7229,"color":"#fff"},{"offset":0.75,"color":"#fff"},{"offset":0.75,"color":"#a48ff0"},{"offset":0.7646,"color":"#a48ff0"},{"offset":0.7646,"color":"#fff"},{"offset":0.7917,"color":"#fff"},{"offset":0.7917,"color":"#a48ff0"},{"offset":0.8063,"color":"#a48ff0"},{"offset":0.8063,"color":"#fff"},{"offset":0.8333,"color":"#fff"},{"offset":0.8333,"color":"#a48ff0"},{"offset":0.8479,"color":"#a48ff0"},{"offset":0.8479,"color":"#fff"},{"offset":0.875,"color":"#fff"},{"offset":0.875,"color":"#a48ff0"},{"offset":0.8896,"color":"#a48ff0"},{"offset":0.8896,"color":"#fff"},{"offset":0.9167,"color":"#fff"},{"offset":0.9167,"color":"#a48ff0"},{"offset":0.9313,"color":"#a48ff0"},{"offset":0.9313,"color":"#fff"},{"offset":0.9583,"color":"#fff"},{"offset":0.9583,"color":"#a48ff0"},{"offset":0.9729,"color":"#a48ff0"},{"offset":0.9729,"color":"#fff"},{"offset":1,"color":"#fff"}]}},
              "encoding": {"x": {"field": "group", "type": "nominal", "axis": null}, "y": {"field": "value", "type": "quantitative", "axis": null}}
            },
            {
              "data": {"name": "bars"},
              "transform": [{"filter": "datum.panel === 'd'"}],
              "mark": {"type": "rule", "color": "#222", "strokeWidth": 2},
              "encoding": {"x": {"field": "group", "type": "nominal", "axis": null}, "y": {"field": "lo", "type": "quantitative", "axis": null}, "y2": {"field": "hi"}}
            },
            {
              "data": {"name": "bars"},
              "transform": [{"filter": "datum.panel === 'd'"}],
              "mark": {"type": "tick", "color": "#222", "size": 7, "thickness": 2},
              "encoding": {"x": {"field": "group", "type": "nominal", "axis": null}, "y": {"field": "hi", "type": "quantitative", "axis": null}}
            },
            {
              "data": {"name": "bars"},
              "transform": [{"filter": "datum.panel === 'd'"}],
              "mark": {"type": "tick", "color": "#222", "size": 7, "thickness": 2},
              "encoding": {"x": {"field": "group", "type": "nominal", "axis": null}, "y": {"field": "lo", "type": "quantitative", "axis": null}}
            },
            {
              "data": {"name": "bars"},
              "transform": [{"filter": "datum.panel === 'd'"}],
              "mark": {"type": "text", "fontSize": 22, "fontWeight": "bold", "color": "#1a1a1a", "dy": -35, "baseline": "alphabetic"},
              "encoding": {"x": {"field": "group", "type": "nominal", "axis": null}, "y": {"datum": 0, "type": "quantitative", "axis": null}, "text": {"field": "top"}}
            },
            {
              "data": {"name": "bars"},
              "transform": [{"filter": "datum.panel === 'd'"}],
              "mark": {"type": "text", "fontSize": 22, "fontWeight": "bold", "color": "#1a1a1a", "dy": -6, "baseline": "alphabetic"},
              "encoding": {"x": {"field": "group", "type": "nominal", "axis": null}, "y": {"datum": 0, "type": "quantitative", "axis": null}, "text": {"field": "bot"}}
            },
            {
              "data": {"name": "bars"},
              "transform": [{"filter": "datum.panel === 'd'"}],
              "mark": {"type": "text", "fontSize": 22, "fontWeight": "bold", "color": "#1a1a1a", "dy": -22, "baseline": "alphabetic"},
              "encoding": {"x": {"field": "group", "type": "nominal", "axis": null}, "y": {"datum": 0, "type": "quantitative", "axis": null}, "text": {"field": "mid"}}
            },
            {
              "data": {"name": "sig"},
              "transform": [{"filter": "datum.panel === 'd'"}],
              "mark": {"type": "rule", "color": "#111", "strokeWidth": 3},
              "encoding": {"x": {"field": "from", "type": "nominal", "axis": null}, "x2": {"field": "to"}, "y": {"field": "y", "type": "quantitative", "axis": null}}
            },
            {
              "data": {"name": "sig"},
              "transform": [{"filter": "datum.panel === 'd' && datum.kind === 'long'"}],
              "mark": {"type": "text", "font": "DejaVu Sans", "fontSize": 26, "fontWeight": "bold", "color": "#111", "dy": -3, "baseline": "alphabetic"},
              "encoding": {"x": {"field": "at", "type": "nominal", "bandPosition": 0.5, "axis": null}, "y": {"field": "y", "type": "quantitative", "axis": null}, "text": {"field": "stars"}}
            },
            {
              "data": {"name": "sig"},
              "transform": [{"filter": "datum.panel === 'd' && datum.kind === 'short'"}],
              "mark": {"type": "text", "font": "DejaVu Sans", "fontSize": 26, "fontWeight": "bold", "color": "#111", "dy": -3, "baseline": "alphabetic"},
              "encoding": {"x": {"field": "at", "type": "nominal", "bandPosition": 0, "axis": null}, "y": {"field": "y", "type": "quantitative", "axis": null}, "text": {"field": "stars"}}
            }
          ]
        }
      ]
    }
  ]
}
